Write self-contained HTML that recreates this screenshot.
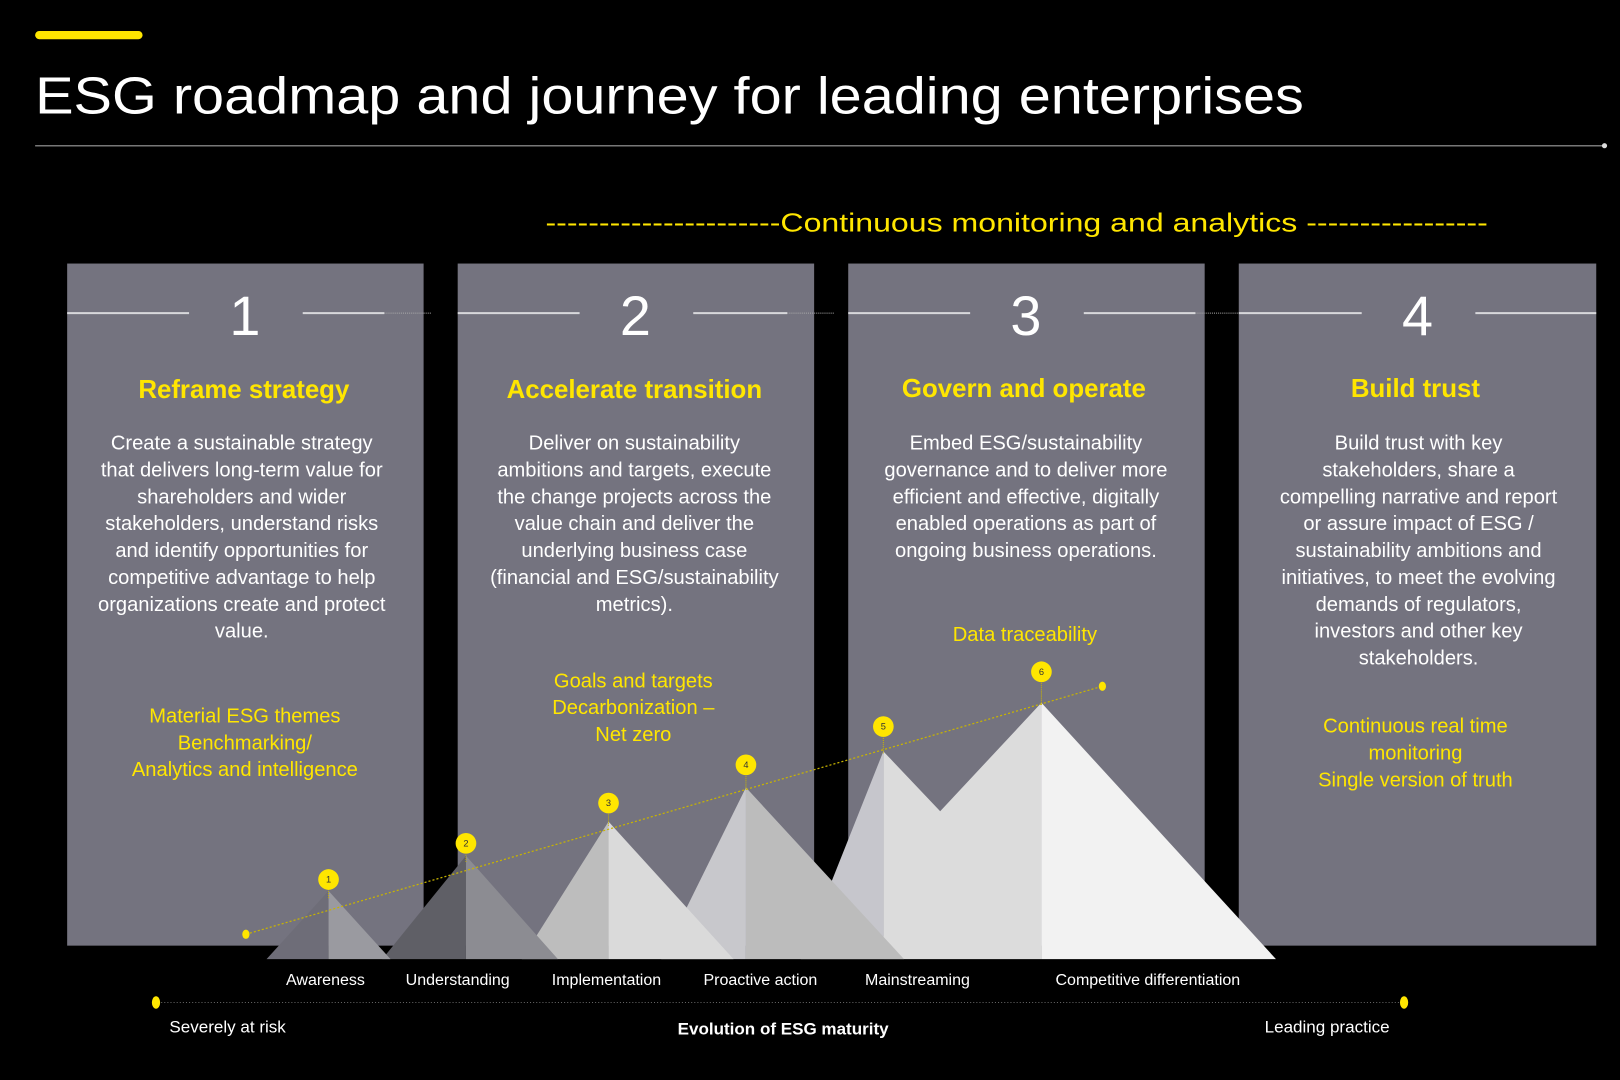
<!DOCTYPE html>
<html><head><meta charset="utf-8"><style>
html,body{margin:0;padding:0;background:#000;width:1620px;height:1080px;overflow:hidden}
svg{display:block}
text{font-family:"Liberation Sans",sans-serif}
.b{fill:#fff;font-size:19.5px;text-anchor:middle}
.h{fill:#ffe600;font-size:25px;font-weight:bold;text-anchor:middle}
.y{fill:#ffe600;font-size:19.5px;text-anchor:middle}
.n{fill:#fff;font-size:54px;text-anchor:middle}
.l{fill:#fff;font-size:15.5px;text-anchor:middle}
</style></head><body>
<svg width="1620" height="1080" viewBox="0 0 1568 1045" preserveAspectRatio="none">
<rect width="1568" height="1045" fill="#000"/>
<rect x="34" y="30" width="104" height="8" rx="4" fill="#ffe600"/>
<text x="34" y="110" fill="#fff" font-size="50" textLength="1228" lengthAdjust="spacingAndGlyphs">ESG roadmap and journey for leading enterprises</text>
<line x1="34" y1="141" x2="1553" y2="141" stroke="#777" stroke-width="1.5"/>
<circle cx="1553" cy="141" r="2.5" fill="#ddd"/>
<text x="528" y="224" fill="#ffe600" font-size="25" textLength="912" lengthAdjust="spacingAndGlyphs">----------------------Continuous monitoring and analytics -----------------</text>

<g fill="#74737f">
<rect x="65" y="255" width="345" height="660"/>
<rect x="443" y="255" width="345" height="660"/>
<rect x="821" y="255" width="345" height="660"/>
<rect x="1199" y="255" width="346" height="660"/>
</g>
<g stroke="#d8d8dc" stroke-width="2">
<line x1="65" y1="303" x2="183" y2="303"/><line x1="293" y1="303" x2="372" y2="303"/>
<line x1="443" y1="303" x2="561" y2="303"/><line x1="671" y1="303" x2="762" y2="303"/>
<line x1="821" y1="303" x2="939" y2="303"/><line x1="1049" y1="303" x2="1157" y2="303"/>
<line x1="1199" y1="303" x2="1318" y2="303"/><line x1="1428" y1="303" x2="1545" y2="303"/>
</g>
<g stroke="#aaa" stroke-width="1" stroke-dasharray="1 1">
<line x1="372" y1="303" x2="418" y2="303"/><line x1="762" y1="303" x2="808" y2="303"/><line x1="1157" y1="303" x2="1199" y2="303"/>
</g>
<text class="n" x="237" y="324">1</text><text class="n" x="615" y="324">2</text><text class="n" x="993" y="324">3</text><text class="n" x="1372" y="324">4</text>

<text class="h" x="236" y="385">Reframe strategy</text>
<text class="h" x="614" y="385">Accelerate transition</text>
<text class="h" x="991" y="384">Govern and operate</text>
<text class="h" x="1370" y="384">Build trust</text>

<g class="b">
<text class="b" x="234" y="435">Create a sustainable strategy</text>
<text class="b" x="234" y="461">that delivers long-term value for</text>
<text class="b" x="234" y="487">shareholders and wider</text>
<text class="b" x="234" y="513">stakeholders, understand risks</text>
<text class="b" x="234" y="539">and identify opportunities for</text>
<text class="b" x="234" y="565">competitive advantage to help</text>
<text class="b" x="234" y="591">organizations create and protect</text>
<text class="b" x="234" y="617">value.</text>

<text class="b" x="614" y="435">Deliver on sustainability</text>
<text class="b" x="614" y="461">ambitions and targets, execute</text>
<text class="b" x="614" y="487">the change projects across the</text>
<text class="b" x="614" y="513">value chain and deliver the</text>
<text class="b" x="614" y="539">underlying business case</text>
<text class="b" x="614" y="565">(financial and ESG/sustainability</text>
<text class="b" x="614" y="591">metrics).</text>

<text class="b" x="993" y="435">Embed ESG/sustainability</text>
<text class="b" x="993" y="461">governance and to deliver more</text>
<text class="b" x="993" y="487">efficient and effective, digitally</text>
<text class="b" x="993" y="513">enabled operations as part of</text>
<text class="b" x="993" y="539">ongoing business operations.</text>

<text class="b" x="1373" y="435">Build trust with key</text>
<text class="b" x="1373" y="461">stakeholders, share a</text>
<text class="b" x="1373" y="487">compelling narrative and report</text>
<text class="b" x="1373" y="513">or assure impact of ESG /</text>
<text class="b" x="1373" y="539">sustainability ambitions and</text>
<text class="b" x="1373" y="565">initiatives, to meet the evolving</text>
<text class="b" x="1373" y="591">demands of regulators,</text>
<text class="b" x="1373" y="617">investors and other key</text>
<text class="b" x="1373" y="643">stakeholders.</text>
</g>

<text class="y" x="237" y="699">Material ESG themes</text>
<text class="y" x="237" y="725">Benchmarking/</text>
<text class="y" x="237" y="751">Analytics and intelligence</text>
<text class="y" x="613" y="665">Goals and targets</text>
<text class="y" x="613" y="691">Decarbonization –</text>
<text class="y" x="613" y="717">Net zero</text>
<text class="y" x="992" y="620">Data traceability</text>
<text class="y" x="1370" y="709">Continuous real time</text>
<text class="y" x="1370" y="735">monitoring</text>
<text class="y" x="1370" y="761">Single version of truth</text>

<!-- mountains (drawn right to left so earlier ones overlap) -->
<polygon points="1008,680 1235,928 1008,928" fill="#f2f2f2"/>
<polygon points="855,727 910,785 1008,680 1008,928 855,928" fill="#dcdcdc"/>
<polygon points="775,928 855,727 855,928" fill="#c6c6cc"/>
<polygon points="722,762 875,928 722,928" fill="#bcbcbc"/>
<polygon points="640,928 722,762 722,928" fill="#c8c8cc"/>
<polygon points="589,795 710,928 589,928" fill="#dadada"/>
<polygon points="505,928 589,795 589,928" fill="#bdbdbd"/>
<polygon points="451,828 540,928 451,928" fill="#8c8c92"/>
<polygon points="370,928 451,828 451,928" fill="#5f5f66"/>
<polygon points="318,862 378,928 318,928" fill="#9a9aa0"/>
<polygon points="258,928 318,862 318,928" fill="#6e6d78"/>
<line x1="238" y1="904" x2="1067" y2="664" stroke="#c8b400" stroke-width="1.2" stroke-dasharray="2 2"/>
<ellipse cx="238" cy="904" rx="3.5" ry="4.5" fill="#ffe600"/>
<ellipse cx="1067" cy="664" rx="3.5" ry="4.5" fill="#ffe600"/>
<g stroke="#c8b400" stroke-width="1" stroke-dasharray="1 1">
<line x1="318" y1="860" x2="318" y2="870"/><line x1="451" y1="825" x2="451" y2="835"/><line x1="589" y1="786" x2="589" y2="800"/>
<line x1="722" y1="749" x2="722" y2="765"/><line x1="855" y1="712" x2="855" y2="730"/><line x1="1008" y1="659" x2="1008" y2="683"/>
</g>
<g fill="#ffe600">
<circle cx="318" cy="851" r="10"/><circle cx="451" cy="816" r="10"/><circle cx="589" cy="777" r="10"/>
<circle cx="722" cy="740" r="10"/><circle cx="855" cy="703" r="10"/><circle cx="1008" cy="650" r="10"/>
</g>
<g font-size="9" fill="#333" text-anchor="middle">
<text x="318" y="854">1</text><text x="451" y="819">2</text><text x="589" y="780">3</text><text x="722" y="743">4</text><text x="855" y="706">5</text><text x="1008" y="653">6</text>
</g>

<text class="l" x="315" y="953">Awareness</text>
<text class="l" x="443" y="953">Understanding</text>
<text class="l" x="587" y="953">Implementation</text>
<text class="l" x="736" y="953">Proactive action</text>
<text class="l" x="888" y="953">Mainstreaming</text>
<text class="l" x="1111" y="953">Competitive differentiation</text>

<line x1="150" y1="970" x2="1360" y2="970" stroke="#666" stroke-width="1" stroke-dasharray="1 2"/>
<ellipse cx="151" cy="970" rx="4" ry="6" fill="#ffe600"/>
<ellipse cx="1359" cy="970" rx="4" ry="6" fill="#ffe600"/>
<text x="164" y="999" fill="#fff" font-size="16.5">Severely at risk</text>
<text x="758" y="1001" fill="#fff" font-size="16.5" font-weight="bold" text-anchor="middle">Evolution of ESG maturity</text>
<text x="1345" y="999" fill="#fff" font-size="16.5" text-anchor="end">Leading practice</text>
</svg>
</body></html>
